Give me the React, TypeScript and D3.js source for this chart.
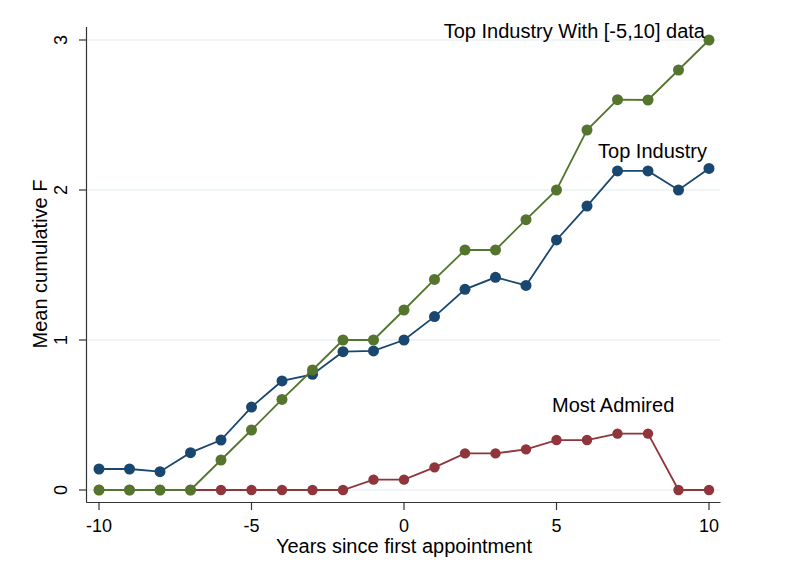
import React from "react";
import * as d3 from "d3";

const years = [-10, -9, -8, -7, -6, -5, -4, -3, -2, -1, 0, 1, 2, 3, 4, 5, 6, 7, 8, 9, 10];
const topIndustry = [0.14, 0.14, 0.122, 0.249, 0.333, 0.553, 0.727, 0.771, 0.922, 0.927, 1.0, 1.156, 1.338, 1.418, 1.364, 1.667, 1.893, 2.127, 2.127, 2.0, 2.144];
const mostAdmired = [0, 0, 0, 0, 0, 0, 0, 0, 0, 0.069, 0.069, 0.151, 0.244, 0.244, 0.271, 0.333, 0.333, 0.376, 0.376, 0, 0];
const topIndustryFull = [0, 0, 0, 0, 0.2, 0.4, 0.604, 0.8, 1.0, 1.0, 1.2, 1.404, 1.6, 1.6, 1.802, 2.0, 2.4, 2.602, 2.6, 2.8, 3.0];
const xTicks = [-10, -5, 0, 5, 10];
const yTicks = [0, 1, 2, 3];

const series = [
  { name: "Top Industry", values: topIndustry, color: "#1a476f", r: 5.5 },
  { name: "Most Admired", values: mostAdmired, color: "#90353b", r: 5.2 },
  { name: "Top Industry With [-5,10] data", values: topIndustryFull, color: "#55752f", r: 5.5 },
];

const FONT = "'Liberation Sans', Arial, sans-serif";

export default function App() {
  const x = d3.scaleLinear().domain([-10, 10]).range([99, 709]);
  const y = d3.scaleLinear().domain([0, 3]).range([490, 40]);
  const axisLeft = 86.5;
  const axisBottom = 502.5;
  const plotRight = 720.5;
  const plotTop = 27;

  const line = d3
    .line<number>()
    .x((_, i) => x(years[i]))
    .y((d) => y(d));

  return (
    <svg
      width={790}
      height={576}
      style={{ position: "absolute", left: 0, top: 0, background: "#fff" }}
      fontFamily={FONT}
    >
      {yTicks.map((t) => (
        <line key={"g" + t} x1={axisLeft + 1} x2={plotRight} y1={y(t)} y2={y(t)} stroke="#eaf2f3" strokeWidth={1.6} />
      ))}
      {series.map((s) => (
        <g key={s.name}>
          <path d={line(s.values) || ""} fill="none" stroke={s.color} strokeWidth={1.8} />
          {s.values.map((v, i) => (
            <circle key={i} cx={x(years[i])} cy={y(v)} r={s.r} fill={s.color} />
          ))}
        </g>
      ))}
      <line x1={axisLeft} x2={axisLeft} y1={plotTop} y2={axisBottom} stroke="#333" strokeWidth={1.2} />
      <line x1={axisLeft} x2={plotRight} y1={axisBottom} y2={axisBottom} stroke="#333" strokeWidth={1.2} />
      {yTicks.map((t) => (
        <g key={"yt" + t}>
          <line x1={79} x2={axisLeft} y1={y(t)} y2={y(t)} stroke="#333" strokeWidth={1.2} />
          <text
            transform={`translate(67,${y(t)}) rotate(-90)`}
            textAnchor="middle"
            fontSize={18}
            fill="#000"
          >
            {t}
          </text>
        </g>
      ))}
      {xTicks.map((t) => (
        <g key={"xt" + t}>
          <line x1={x(t)} x2={x(t)} y1={axisBottom} y2={510} stroke="#333" strokeWidth={1.2} />
          <text x={x(t)} y={532} textAnchor="middle" fontSize={18} fill="#000">
            {t}
          </text>
        </g>
      ))}
      <text x={404} y={553} textAnchor="middle" fontSize={20} fill="#000">
        Years since first appointment
      </text>
      <text transform="translate(47,264) rotate(-90)" textAnchor="middle" fontSize={20} fill="#000">
        Mean cumulative F
      </text>
      <text x={705} y={38} textAnchor="end" fontSize={20} fill="#000">
        Top Industry With [-5,10] data
      </text>
      <text x={707} y={158} textAnchor="end" fontSize={20} fill="#000">
        Top Industry
      </text>
      <text x={552} y={412} textAnchor="start" fontSize={20} fill="#000">
        Most Admired
      </text>
    </svg>
  );
}
